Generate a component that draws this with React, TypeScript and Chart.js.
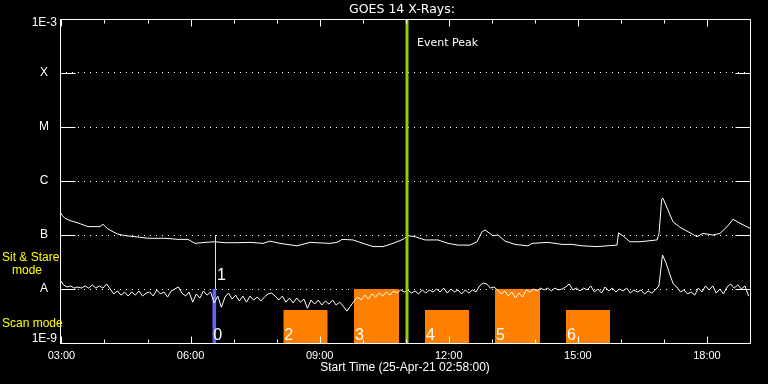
import React, { useEffect, useRef } from "react";
import { Chart, registerables } from "chart.js";

Chart.register(...registerables);

// ---------- data ----------
const titleText = "GOES 14 X-Rays:";
const xAxisTitle = "Start Time (25-Apr-21 02:58:00)";
const xMin = 2.9667; // 02:58
const xMax = 19.0;
const xTickHours = [3, 6, 9, 12, 15, 18];
const xMinorHours = [3, 4, 5, 6, 7, 8, 9, 10, 11, 12, 13, 14, 15, 16, 17, 18];
const yDecades = [1e-9, 1e-8, 1e-7, 1e-6, 1e-5, 1e-4, 1e-3];
const yDecadeLabels = ["1E-9", "A", "B", "C", "M", "X", "1E-3"];

// GOES long channel (1-8 A)
const longTimes = [
  2.967, 3.02, 3.083, 3.2, 3.315, 3.45, 3.617, 3.896, 3.966, 4.082, 4.2, 4.315, 4.5, 4.71, 5.01,
  5.407, 5.709, 5.941, 6.104, 6.336, 6.568, 6.8, 7.033, 7.382, 7.684, 7.846, 8.079, 8.474, 8.776,
  9.24, 9.403, 9.52, 9.775, 10.008, 10.24, 10.472, 10.705, 10.937, 11.053, 11.216, 11.448, 11.75,
  11.982, 12.215, 12.494, 12.657, 12.773, 12.843, 13.028, 13.144, 13.307, 13.54, 13.842, 13.935,
  14.306, 14.632, 14.864, 15.097, 15.445, 15.677, 15.909, 15.944, 16.049, 16.211, 16.444, 16.839,
  16.886, 16.948, 16.978, 17.094, 17.21, 17.373, 17.606, 17.768, 17.908, 18.14, 18.303, 18.466,
  18.605, 18.768, 19.0,
];
const longFlux = [
  2.7e-7, 2.3e-7, 2.04e-7, 1.85e-7, 1.74e-7, 1.6e-7, 1.43e-7, 1.43e-7, 1.58e-7, 1.29e-7, 1.15e-7,
  1.03e-7, 0.97e-7, 0.93e-7, 0.87e-7, 0.87e-7, 0.83e-7, 0.83e-7, 0.7e-7, 0.73e-7, 0.75e-7, 0.72e-7,
  0.72e-7, 0.73e-7, 0.7e-7, 0.77e-7, 0.7e-7, 0.63e-7, 0.73e-7, 0.7e-7, 0.73e-7, 0.83e-7, 0.81e-7,
  0.7e-7, 0.61e-7, 0.61e-7, 0.7e-7, 0.83e-7, 0.97e-7, 0.93e-7, 0.81e-7, 0.81e-7, 0.7e-7, 0.65e-7,
  0.65e-7, 0.75e-7, 1.15e-7, 1.24e-7, 0.97e-7, 1.0e-7, 0.77e-7, 0.67e-7, 0.63e-7, 0.7e-7, 0.73e-7,
  0.67e-7, 0.67e-7, 0.63e-7, 0.61e-7, 0.63e-7, 0.65e-7, 1.1e-7, 0.96e-7, 0.75e-7, 0.75e-7, 0.81e-7,
  1.07e-7, 4.6e-7, 4.8e-7, 2.9e-7, 1.76e-7, 1.39e-7, 1.1e-7, 0.93e-7, 1.07e-7, 1.0e-7, 1.07e-7,
  1.42e-7, 1.95e-7, 1.65e-7, 1.33e-7,
];

// GOES short channel (0.5-4 A), one value every 5 minutes from 02:58
const shortStart = 2.9667;
const shortStepMinutes = 5;
const shortFlux = [
  14.7e-9, 11.9e-9, 10.9e-9, 11.4e-9, 10.4e-9, 10.9e-9, 10.4e-9, 11.4e-9, 10.4e-9, 11.9e-9, 10.4e-9, 11.4e-9, 10.4e-9,
  12.4e-9, 10e-9, 8.1e-9, 9.2e-9, 7.7e-9, 8.8e-9, 7.4e-9, 8.8e-9, 7.7e-9, 9.2e-9, 7.4e-9, 8.4e-9, 8.8e-9,
  7.4e-9, 9.6e-9, 8.1e-9, 8.8e-9, 7.1e-9, 9.2e-9, 10e-9, 10.9e-9, 8.4e-9, 7.4e-9, 8.8e-9, 5.7e-9, 8.1e-9,
  6.8e-9, 9.2e-9, 7.7e-9, 8.8e-9, 5.5e-9, 7.4e-9, 4.6e-9, 7.1e-9, 8.4e-9, 6.5e-9, 7.7e-9, 6.0e-9, 7.4e-9,
  5.7e-9, 7.4e-9, 6.25e-9, 7.1e-9, 6.0e-9, 7.1e-9, 8.1e-9, 8.4e-9, 7.4e-9, 6.25e-9, 7.4e-9, 5.7e-9, 6.8e-9,
  5.5e-9, 6.8e-9, 5.7e-9, 6.5e-9, 4.4e-9, 6.25e-9, 5.25e-9, 6.25e-9, 5.05e-9, 6.0e-9, 5.25e-9, 6.25e-9, 5.05e-9,
  5.7e-9, 4.8e-9, 3.9e-9, 4.8e-9, 6.0e-9, 7.1e-9, 6.25e-9, 7.7e-9, 6.5e-9, 8.1e-9, 7.1e-9, 8.4e-9, 7.4e-9,
  8.8e-9, 7.7e-9, 9.2e-9, 8.4e-9, 9.6e-9, 8.8e-9, 9.6e-9, 8.4e-9, 9.2e-9, 8.1e-9, 9.6e-9, 8.4e-9, 9.6e-9,
  8.8e-9, 10e-9, 8.8e-9, 10.4e-9, 8.4e-9, 10e-9, 8.8e-9, 9.6e-9, 8.1e-9, 9.6e-9, 8.4e-9, 9.6e-9, 8.8e-9,
  11.4e-9, 12.9e-9, 12.4e-9, 10.4e-9, 10.9e-9, 9.6e-9, 8.1e-9, 9.2e-9, 7.4e-9, 8.8e-9, 6.8e-9, 8.4e-9, 7.1e-9,
  9.6e-9, 8.8e-9, 10e-9, 9.2e-9, 10.4e-9, 9.6e-9, 10.4e-9, 9.2e-9, 10.4e-9, 9.6e-9, 10e-9, 10.9e-9, 12.4e-9,
  9.6e-9, 10.4e-9, 9.2e-9, 10.4e-9, 9.6e-9, 11.4e-9, 8.8e-9, 10e-9, 8.4e-9, 10.9e-9, 9.2e-9, 10.4e-9, 8.8e-9,
  10e-9, 9.2e-9, 10.4e-9, 8.4e-9, 9.6e-9, 8.8e-9, 9.6e-9, 8.1e-9, 9.2e-9, 8.4e-9, 9.6e-9, 11.4e-9, 42.6e-9,
  30.3e-9, 19.0e-9, 12.4e-9, 10.9e-9, 8.8e-9, 9.6e-9, 8.1e-9, 8.8e-9, 7.7e-9, 10.4e-9, 8.8e-9, 11.4e-9, 9.6e-9,
  11.4e-9, 8.4e-9, 10e-9, 8.1e-9, 10.9e-9, 12.4e-9, 10.4e-9, 11.9e-9, 10e-9, 11.4e-9, 7.4e-9,
];

// IRIS observation blocks
const scanStarts = [6.506, 8.156, 9.798, 11.448, 13.075, 14.724];
const scanEnds = [6.599, 9.187, 10.844, 12.471, 14.121, 15.747];
const scanTops = [1e-8, 4.1e-9, 1e-8, 4.1e-9, 1e-8, 4.1e-9];
const scanLabels = ["0", "2", "3", "4", "5", "6"];
const scanColors = ["#6464ff", "#ff8000", "#ff8000", "#ff8000", "#ff8000", "#ff8000"];
const stareTimes = [6.58];
const stareBottoms = [1e-8];
const stareTops = [1e-7];
const stareLabels = ["1"];
const eventPeakTime = 11.03;
const eventLabel = "Event Peak";

// ---------- styling ----------
const WHITE = "#ffffff";
const YELLOW = "#ffff00";
const EVENT_GREEN = "#99cc00";
const SANS = '"Liberation Sans", Arial, sans-serif';
const DJV = '"DejaVu Sans", sans-serif';

const overlayPlugin = {
  id: "goesOverlay",
  beforeDraw(chart: any) {
    const { ctx, width, height } = chart;
    ctx.save();
    ctx.fillStyle = "#000";
    ctx.fillRect(0, 0, width, height);
    ctx.restore();
  },
  afterDatasetsDraw(chart: any) {
    const { ctx, chartArea: a, scales } = chart;
    const xs = scales.x;
    const ys = scales.y;
    const L = Math.round(a.left) + 0.5;
    const R = Math.round(a.right) + 0.5;
    const T = Math.round(a.top) + 0.5;
    const B = Math.round(a.bottom) + 0.5;
    ctx.save();
    ctx.strokeStyle = WHITE;
    ctx.lineWidth = 1;
    ctx.setLineDash([]);
    ctx.beginPath();
    ctx.rect(L, T, R - L, B - T);
    // x ticks (inward, top and bottom)
    xMinorHours.forEach((h) => {
      const px = Math.round(xs.getPixelForValue(h)) + 0.5;
      const len = xTickHours.includes(h) ? 7 : 4;
      ctx.moveTo(px, B);
      ctx.lineTo(px, B - len);
      ctx.moveTo(px, T);
      ctx.lineTo(px, T + len);
    });
    // y ticks (inward, left and right)
    yDecades.forEach((v) => {
      const py = Math.round(ys.getPixelForValue(v)) + 0.5;
      ctx.moveTo(L, py);
      ctx.lineTo(L + 15, py);
      ctx.moveTo(R - 15, py);
      ctx.lineTo(R, py);
    });
    ctx.stroke();

    // block numbers
    ctx.fillStyle = WHITE;
    ctx.font = `16px ${SANS}`;
    ctx.textAlign = "left";
    ctx.textBaseline = "alphabetic";
    const base = ys.getPixelForValue(yDecades[0]);
    scanStarts.forEach((s, i) => {
      ctx.fillText(scanLabels[i], xs.getPixelForValue(s) + 1, base - 3);
    });
    stareTimes.forEach((t, i) => {
      ctx.fillText(stareLabels[i], xs.getPixelForValue(t) + 1.5, ys.getPixelForValue(stareBottoms[i]) - 9);
    });

    // event label
    ctx.font = `11px ${DJV}`;
    ctx.textBaseline = "middle";
    ctx.fillText(eventLabel, xs.getPixelForValue(eventPeakTime) + 10, a.top + 24);
    ctx.restore();
  },
  afterDraw(chart: any) {
    const { ctx, chartArea: a, scales } = chart;
    const ys = scales.y;
    ctx.save();
    // title
    ctx.fillStyle = WHITE;
    ctx.font = `12.5px ${DJV}`;
    ctx.textAlign = "center";
    ctx.textBaseline = "middle";
    ctx.fillText(titleText, (a.left + a.right) / 2 - 3, a.top - 9);

    // y labels
    ctx.font = `12px ${SANS}`;
    const last = yDecades.length - 1;
    yDecades.forEach((v, i) => {
      let y = ys.getPixelForValue(v);
      if (i === 0) y -= 4;
      if (i === last) y += 4;
      const lab = yDecadeLabels[i];
      if (lab.length > 1) {
        ctx.textAlign = "right";
        ctx.fillText(lab, a.left - 3, y);
      } else {
        ctx.textAlign = "center";
        ctx.fillText(lab, a.left - 16, y);
      }
    });

    // mode labels
    ctx.fillStyle = YELLOW;
    ctx.textAlign = "left";
    const yA = ys.getPixelForValue(1e-8);
    const yB = ys.getPixelForValue(1e-7);
    const y9 = ys.getPixelForValue(1e-9);
    const stareMid = (yA + yB) / 2;
    ctx.fillText("Sit & Stare", 2, stareMid - 4);
    ctx.fillText("mode", 12, stareMid + 9);
    ctx.fillText("Scan mode", 2, (yA + y9) / 2 + 8);
    ctx.restore();
  },
};

function buildConfig(): any {
  const datasets: any[] = [];
  datasets.push({
    label: "event",
    data: [
      { x: eventPeakTime, y: yDecades[0] },
      { x: eventPeakTime, y: yDecades[yDecades.length - 1] },
    ],
    borderColor: EVENT_GREEN,
    borderWidth: 3,
    fill: false,
  });
  datasets.push({
    label: "short",
    data: shortFlux.map((v, i) => ({ x: shortStart + (i * shortStepMinutes) / 60, y: v })),
    borderColor: WHITE,
    borderWidth: 1,
    fill: false,
  });
  datasets.push({
    label: "long",
    data: longTimes.map((t, i) => ({ x: t, y: longFlux[i] })),
    borderColor: WHITE,
    borderWidth: 1,
    fill: false,
  });
  stareTimes.forEach((t, i) => {
    datasets.push({
      label: "stare" + i,
      data: [
        { x: t, y: stareBottoms[i] },
        { x: t, y: stareTops[i] },
      ],
      borderColor: YELLOW,
      borderWidth: 1,
      fill: false,
    });
  });
  scanStarts.forEach((s, i) => {
    datasets.push({
      label: "scan" + scanLabels[i],
      data: [
        { x: s, y: scanTops[i] },
        { x: scanEnds[i], y: scanTops[i] },
      ],
      borderColor: "rgba(0,0,0,0)",
      borderWidth: 0,
      backgroundColor: scanColors[i],
      fill: "start",
    });
  });

  return {
    type: "line",
    data: { datasets },
    options: {
      animation: false,
      responsive: false,
      devicePixelRatio: 1,
      parsing: true,
      layout: { padding: { top: 19, right: 18, left: 0, bottom: 0 } },
      elements: { point: { radius: 0 }, line: { tension: 0 } },
      plugins: {
        legend: { display: false },
        tooltip: { enabled: false },
        title: { display: false },
        filler: { propagate: false },
      },
      scales: {
        x: {
          type: "linear",
          min: xMin,
          max: xMax,
          afterBuildTicks: (s: any) => {
            s.ticks = xTickHours.map((v) => ({ value: v }));
          },
          afterFit: (s: any) => {
            s.height = 41;
          },
          grid: { display: false, drawTicks: false },
          border: { display: false },
          ticks: {
            color: WHITE,
            font: { family: SANS, size: 11 },
            padding: 6,
            autoSkip: false,
            maxRotation: 0,
            callback: (v: any) => String(v).padStart(2, "0") + ":00",
          },
          title: {
            display: true,
            text: xAxisTitle,
            color: WHITE,
            font: { family: SANS, size: 12 },
            padding: { top: 0, bottom: 9 },
          },
        },
        y: {
          type: "logarithmic",
          min: yDecades[0],
          max: yDecades[yDecades.length - 1],
          afterBuildTicks: (s: any) => {
            s.ticks = yDecades.map((v) => ({ value: v }));
          },
          afterFit: (s: any) => {
            s.width = 60;
          },
          grid: { color: WHITE, lineWidth: 1, drawTicks: false },
          border: { display: false, dash: [1, 5] },
          ticks: { display: false },
        },
      },
    },
    plugins: [overlayPlugin],
  };
}

export default function App() {
  const ref = useRef<HTMLCanvasElement>(null);
  useEffect(() => {
    document.body.style.margin = "0";
    document.body.style.background = "#000";
    const chart = new Chart(ref.current as HTMLCanvasElement, buildConfig());
    return () => chart.destroy();
  }, []);
  return (
    <canvas
      ref={ref}
      width={768}
      height={384}
      style={{ display: "block", width: 768, height: 384 }}
    />
  );
}
